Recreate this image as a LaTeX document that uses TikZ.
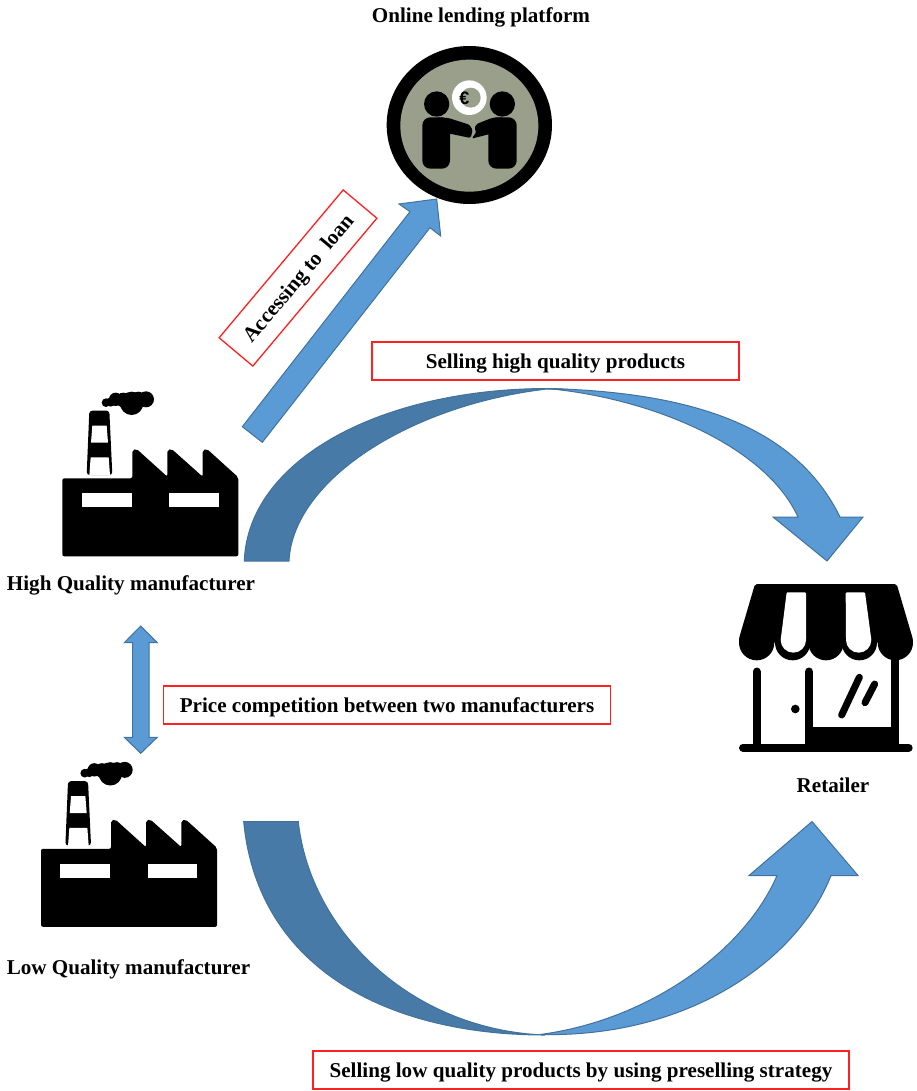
\documentclass[tikz,border=0pt]{standalone}
\usepackage{fontspec}
\setmainfont{Liberation Serif}
\newfontfamily\eurofont{Liberation Sans}
\definecolor{arrowlight}{HTML}{5B9BD5}
\definecolor{arrowedge}{HTML}{41719C}
\definecolor{arrowdark}{HTML}{487AA8}
\definecolor{labelred}{HTML}{FF2020}
\definecolor{logogray}{HTML}{9A9F8C}
\tikzset{
  blockarrow/.style={fill=arrowlight,draw=arrowedge,line width=1pt,line join=miter},
  darkarrow/.style={fill=arrowdark,draw=arrowedge,line width=1pt},
  redbox/.style={draw=labelred,line width=1.6pt,fill=white,inner sep=0pt},
  caption/.style={font=\fontsize{21.1}{24}\selectfont\bfseries,text=black,inner sep=0pt,align=center},
}
\newcommand{\boxtext}[1]{\raisebox{-7pt}[0pt][0pt]{#1}}
\newcommand{\factoryicon}[2]{%
  \begin{scope}[shift={(#1,#2)},scale=1/3]
    \fill[rounded corners=3pt] (110,285) -- (118,92) -- (178,92) -- (187,285) -- cycle;
    \fill[white] (127,137) -- (170,137) -- (174,188) -- (123,188) -- cycle;
    \fill[white] (122,232) -- (176,232) -- (180,286) -- (118,286) -- cycle;
    \fill (245,70) circle[radius=35pt];
    \fill (197,58) circle[radius=20pt];
    \fill (288,58) circle[radius=24pt];
    \fill (168,68) circle[radius=13pt];
    \fill (182,66) circle[radius=14pt];
    \fill (220,60) circle[radius=22pt];
    \fill (265,55) circle[radius=20pt];
    \fill[rounded corners=2pt] (37,295) -- (247,295) -- (247,210) -- (260,207) -- (352,290) -- (352,210) -- (365,207) -- (458,290) -- (458,210) -- (471,207) -- (565,292) -- (565,529) -- (37,529) -- cycle;
    \fill[white] (95,340) rectangle (245,382);
    \fill[white] (357,340) rectangle (506,382);
  \end{scope}}
\begin{document}
\begin{tikzpicture}[x=1pt,y=-1pt]
\useasboundingbox (0,0) rectangle (916,1091);

% lending platform logo
\begin{scope}[shift={(370,30)},scale=1/3]
  \fill (298,285) ellipse[x radius=248pt,y radius=237pt];
  \fill[logogray] (298,287) ellipse[x radius=207pt,y radius=198pt];
  \fill[white] (298,203) circle[radius=52pt];
  \fill[logogray] (302,203) circle[radius=30pt];
  \fill (200,222) circle[radius=38pt];
  \fill (397,222) circle[radius=38pt];
  \fill[rounded corners=8pt] (157,262) -- (240,262) -- (240,416) -- (157,416) -- cycle;
  \fill[rounded corners=1.5pt] (200,262) -- (235,264) -- (298,284) -- (308,300) -- (302,324) -- (225,308) -- cycle;
  \fill[rounded corners=8pt] (355,262) -- (440,262) -- (440,416) -- (355,416) -- cycle;
  \fill[rounded corners=1.5pt] (400,262) -- (365,264) -- (320,282) -- (313,295) -- (319,306) -- (305,326) -- (375,308) -- cycle;
  \node[font=\fontsize{18}{18}\selectfont\bfseries\eurofont,inner sep=0pt] (euro) at (283,205) {€};
\end{scope}

% factories and shop
\factoryicon{50}{380}
\factoryicon{28.7}{750.5}
\begin{scope}[shift={(730,570)},scale=1/3]
  \fill[rounded corners=2pt] (75,42) -- (500,42) -- (548,205) -- (548,218) -- (27,218) -- (27,205) -- cycle;
  \foreach \cx in {80,188,288,388,496} \fill (\cx,218) circle[radius=53pt];
  \fill[white,rounded corners=1pt] (170,67) -- (228,67) -- (228,210) -- (152,210) -- cycle;
  \fill[white] (190,210) circle[radius=38pt];
  \fill[white,rounded corners=1pt] (347,67) -- (405,67) -- (424,210) -- (348,210) -- cycle;
  \fill[white] (386,210) circle[radius=38pt];
  \draw[line width=8.3pt,line cap=round] (80,305) -- (80,530);
  \draw[line width=8.3pt,line cap=round] (237,305) -- (237,530);
  \draw[line width=8.3pt] (495,250) -- (495,530);
  \fill (225,472) rectangle (507,530);
  \draw[line width=8pt,line cap=round] (39,533) -- (536,533);
  \fill (196,417) circle[radius=13pt];
  \draw[line width=7pt,line cap=round] (335,435) -- (388,322);
  \draw[line width=7pt,line cap=round] (405,398) -- (434,342);
\end{scope}

% curved arrow to retailer, upper
\draw[darkarrow] (244.3,561) .. controls (248,460) and (380,389) .. (547,388.5)
  .. controls (555,388.5) and (565,389) .. (572,390)
  .. controls (560,389.5) and (553,389) .. (547,389)
  .. controls (410,405) and (293,480) .. (289,561) -- cycle;
\draw[blockarrow] (547,388.5) .. controls (690,392) and (795,425) .. (840,517)
  -- (863,517) -- (827,561) -- (773,517) -- (798,517)
  .. controls (765,445) and (650,398) .. (547,388.5) -- cycle;

% curved arrow to retailer, lower
\draw[darkarrow] (243.7,821.7) .. controls (258,970) and (390,1035) .. (545,1035)
  .. controls (410,1030) and (310,930) .. (298.3,821.7) -- cycle;
\draw[blockarrow] (540,1034.5) .. controls (695,1038) and (800,955) .. (831,875.5)
  -- (858,875.5) -- (812,821.5) -- (749,875.5) -- (777,875.5)
  .. controls (745,950) and (650,1020) .. (540,1034.5) -- cycle;

% straight arrows
\draw[blockarrow] (242.3,426.7) -- (410,211.7) -- (399,204) -- (436.7,199) -- (440.7,236) -- (430,227.7) -- (262.3,442.3) -- cycle;
\draw[blockarrow] (140.7,626) -- (157.3,642.7) -- (149,642.7) -- (149,737.3) -- (157.3,737.3) -- (140.7,753.3) -- (124.3,737.3) -- (132.7,737.3) -- (132.7,642.7) -- (124.3,642.7) -- cycle;

% captions
\node[caption] (platform) at (481,17) {Online lending platform};
\node[caption] (high) at (131,585) {High Quality manufacturer};
\node[caption] (low) at (128.5,969) {Low Quality manufacturer};
\node[caption] (retailer) at (833,785) {Retailer};

% red label boxes
\node[redbox,caption,minimum width=367.5pt,minimum height=38.5pt] (sellhigh) at (555.5,361) {\boxtext{Selling high quality products}};
\node[redbox,caption,minimum width=447pt,minimum height=38.5pt] (price) at (387,705) {\boxtext{Price competition between two manufacturers}};
\node[redbox,caption,minimum width=536pt,minimum height=38.5pt] (selllow) at (581,1070) {\boxtext{Selling low quality products by using preselling strategy}};
\node[draw=labelred,line width=1.3pt,fill=white,caption,inner sep=0pt,minimum width=193pt,minimum height=44pt,rotate=50] (loan) at (298,278) {\boxtext{Accessing to\ \ loan}};
\end{tikzpicture}
\end{document}
